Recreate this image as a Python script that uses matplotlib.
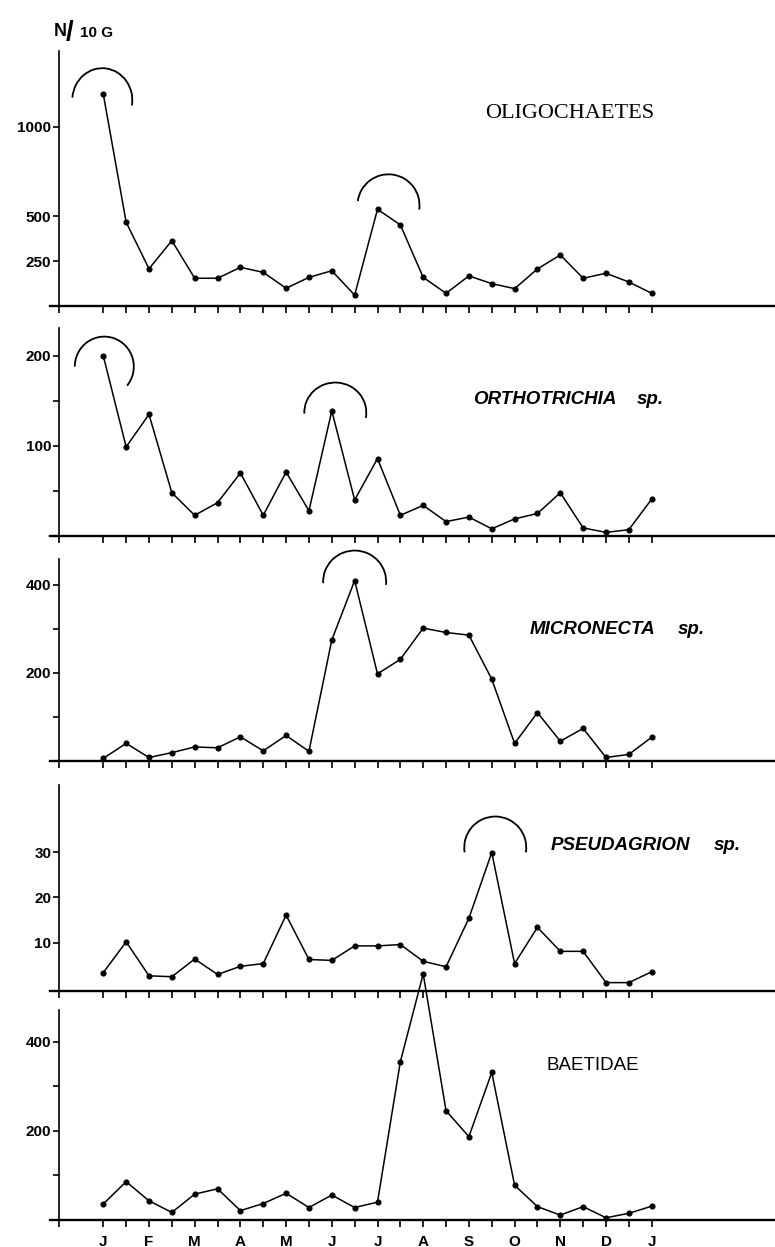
import matplotlib
matplotlib.use("Agg")
import matplotlib.pyplot as plt
import matplotlib.transforms as mtrans
from matplotlib.patches import Arc
from matplotlib import font_manager
import numpy as np

# ---------------- data ----------------
month_labels = ['J', 'F', 'M', 'A', 'M', 'J', 'J', 'A', 'S', 'O', 'N', 'D', 'J']
n_samples = 25  # half-monthly samples, J .. J

oligochaetes = [1183, 468, 208, 365, 155, 155, 216, 188, 99, 160, 197, 61, 540,
                453, 160, 71, 168, 125, 97, 207, 285, 155, 183, 134, 71]
orthotrichia = [200, 99, 135, 48, 23, 37, 70, 23, 71, 28, 139, 40, 86,
                23, 34, 16, 21, 8, 19, 25, 48, 9, 4, 7, 41]
micronecta = [6, 40, 8, 19, 32, 30, 55, 23, 58, 22, 275, 410, 198,
              231, 302, 292, 286, 186, 40, 110, 45, 74, 8, 15, 54]
pseudagrion = [3.4, 10.2, 2.7, 2.5, 6.4, 3.0, 4.8, 5.4, 16.1, 6.3, 6.1, 9.3, 9.3,
               9.6, 5.9, 4.7, 15.4, 29.9, 5.4, 13.4, 8.1, 8.1, 1.2, 1.2, 3.6]
baetidae = [36, 86, 43, 17, 58, 70, 21, 37, 60, 28, 56, 28, 40,
            355, 552, 245, 187, 331, 78, 30, 11, 30, 5, 15, 31]

series = [oligochaetes, orthotrichia, micronecta, pseudagrion, baetidae]
titles = ['OLIGOCHAETES', 'ORTHOTRICHIA', 'MICRONECTA', 'PSEUDAGRION', 'BAETIDAE']
yticks_all = [[250, 500, 1000], [50, 100, 150, 200], [100, 200, 300, 400],
              [10, 20, 30], [100, 200, 300, 400]]
ylabels_all = [['250', '500', '1000'], ['', '100', '', '200'], ['', '200', '', '400'],
               ['10', '20', '30'], ['', '200', '', '400']]
arc_peaks = [[0, 12], [0, 10], [11], [17], []]

# ---------------- layout ----------------
W, H = 775, 1247
fig = plt.figure(figsize=(W / 100, H / 100), dpi=100)
fig.patch.set_facecolor('white')

available = {f.name for f in font_manager.fontManager.ttflist}
narrow = 'Liberation Sans Narrow' in available

panels = [(50.7, 306, 0, 1426), (328, 536, 0, 231), (559, 761, 0, 459),
          (785, 991, -0.65, 44.8), (1010, 1220, 0, 471)]
x0_px, dx_px = 103.3, 22.85
left_px, right_px = 50, 775
xl = (left_px - x0_px) / dx_px
xr = (right_px - x0_px) / dx_px
yaxis_x = (59 - x0_px) / dx_px

arc_geom = {(0, 0): (-1, -6, 60, 64, -10, 175),
            (0, 12): (11, 4, 62, 62, -8, 172),
            (1, 0): (1, -10.7, 59, 60, -40, 180),
            (1, 10): (3.5, -1.7, 62, 60, -10, 182),
            (2, 11): (0, -1, 63, 62, -6, 183),
            (3, 17): (3.5, 5, 62, 62, -9, 189)}

tick_font = dict(family=['Liberation Sans', 'DejaVu Sans'], weight='bold', size=11)
xs = np.arange(n_samples)

for k, (top, base, ymin, ymax) in enumerate(panels):
    ax = fig.add_axes([left_px / W, 1 - base / H, (right_px - left_px) / W, (base - top) / H])
    ax.set_facecolor('none')
    ax.set_xlim(xl, xr)
    ax.set_ylim(ymin, ymax)
    ax.plot(xs, series[k], color='black', lw=1.1, marker='o', ms=3.4,
            clip_on=False, zorder=3)
    for s in ['top', 'right']:
        ax.spines[s].set_visible(False)
    ax.spines['left'].set_position(('data', yaxis_x))
    ax.spines['left'].set_linewidth(1.2)
    ax.spines['bottom'].set_linewidth(1.7)
    ax.set_yticks(yticks_all[k])
    ax.set_yticklabels(ylabels_all[k], fontdict=tick_font)
    ax.tick_params(axis='y', direction='out', length=4.5, width=1.2, pad=1)
    ax.set_xticks(list(xs) + [yaxis_x])
    if k == 4:
        labels = []
        for i in range(n_samples):
            labels.append(month_labels[i // 2] if i % 2 == 0 else '')
        ax.set_xticklabels(labels + [''], fontdict=tick_font)
    else:
        ax.set_xticklabels([])
    ax.tick_params(axis='x', direction='out', length=5, width=1.2, pad=6)

    for pk in arc_peaks[k]:
        ddx, ddy, aw, ah, t1, t2 = arc_geom[(k, pk)]
        tr = mtrans.Affine2D().translate(ddx, ddy) + \
            mtrans.ScaledTranslation(xs[pk], series[k][pk], ax.transData)
        ax.add_patch(Arc((0, 0), aw, ah, theta1=t1, theta2=t2, transform=tr,
                         lw=1.3, color='black', clip_on=False))

def fx(px):
    return px / W

def fy(py):
    return 1 - py / H

if narrow:
    sp_font = dict(family=['Liberation Sans Narrow', 'DejaVu Sans'], size=16.5,
                   weight='bold', style='italic')
else:
    sp_font = dict(family=['Liberation Sans', 'DejaVu Sans'], size=13.5,
                   weight='bold', style='italic')

fig.text(fx(485), fy(113), titles[0], family=['Liberation Serif', 'DejaVu Serif'],
         size=16, va='center', ha='left')
# species with "sp."
for name, xname, xsp, ypos in [(titles[1], 473, 637, 399),
                               (titles[2], 530, 678, 629),
                               (titles[3], 551, 714, 845)]:
    fig.text(fx(xname), fy(ypos), name, va='center', ha='left', **sp_font)
    fig.text(fx(xsp), fy(ypos), 'sp.', va='center', ha='left', **sp_font)
fig.text(fx(546), fy(1066), titles[4], family=['Liberation Sans', 'DejaVu Sans'],
         size=13.5, va='center', ha='left')

# unit label N/10 G
fig.text(fx(54), fy(32), 'N', family=['Liberation Sans', 'DejaVu Sans'], weight='bold',
         size=13, va='center', ha='left')
fig.text(fx(66), fy(33), '/', family=['Liberation Sans', 'DejaVu Sans'], weight='bold',
         size=20, va='center', ha='left')
fig.text(fx(80), fy(33), '10 G', family=['Liberation Sans', 'DejaVu Sans'], weight='bold',
         size=11, va='center', ha='left')

fig.savefig('out.png', dpi=100, facecolor='white')
